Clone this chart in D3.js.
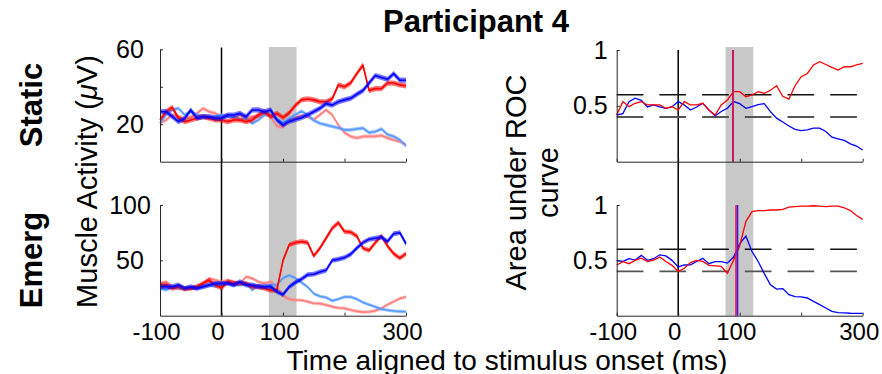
<!DOCTYPE html>
<html>
<head>
<meta charset="utf-8">
<script src="https://cdn.jsdelivr.net/npm/d3@7"></script>
<style>
  body { margin: 0; background: white; }
  text { font-family: "Liberation Sans", Arial, Helvetica, sans-serif; fill: #000; }
</style>
</head>
<body>
<div id="chart"></div>
<script>
// time grid (ms), one sample every 10 ms
const times = d3.range(-100, 301, 10)

// muscle activity (uV), static condition
const staticPink = [20.5, 22.3, 25, 24, 23.2, 24, 25.8, 28.5, 26.7, 25.8, 24, 25, 23.2, 25, 23.2, 24, 24, 25.8, 24, 19,
  18.5, 22, 23.5, 24.5, 24, 22.5, 25, 27.6, 25, 19.5, 15.5, 13.5, 12.6, 13.5, 13.5, 13.5, 14, 12.6, 11.6, 10.8, 9]
const staticLightBlue = [20.5, 25, 27.6, 28.5, 25, 26.7, 25, 24, 23.2, 24, 25, 24, 24, 22.3, 23.2, 20.5, 22.3, 25, 25, 22.3,
  21, 23, 25, 27, 25, 22, 20.5, 19.6, 18.8, 18, 17, 17, 17.5, 17.9, 15.5, 16, 17.5, 14.5, 13.5, 11.6, 8.5]
const staticRed = [22.3, 26.7, 29, 23.2, 21.4, 22.3, 23.2, 24, 23.2, 22.3, 22.3, 21.4, 22.3, 22.3, 21.4, 22.3, 25, 26.7, 24, 25.8,
  23.5, 26, 30, 33, 33.5, 33, 32, 32, 33.5, 41, 40, 42, 47, 51.5, 38, 39, 39, 42, 42, 41, 40.5]
const staticBlue = [26.7, 26.7, 24, 21.4, 23, 27.6, 23.2, 24, 24, 23.2, 23.2, 24.9, 24.9, 25.8, 24, 27.6, 27.6, 26.7, 27.6, 22.3,
  19.5, 21.5, 22.5, 23.5, 25, 26.7, 28.5, 31, 30.2, 32, 33, 33.8, 36, 38, 42, 46, 45, 44, 47, 43.5, 43.5]

// muscle activity (uV), emerging condition
const emergPink = [29.2, 30.7, 26.2, 24.7, 23.2, 24.7, 26.2, 29.2, 33.7, 32.2, 30.7, 32.2, 30.7, 29.2, 35.2, 33.7, 30.7, 29.2, 30.7, 26.2,
  18, 15, 14, 14, 12.7, 11.2, 11, 9.7, 8.2, 7, 6.7, 5.2, 4, 3.2, 3.5, 4.5, 6.5, 10, 12.7, 15.5, 17]
const emergLightBlue = [24.7, 23.2, 26.2, 24.7, 24.7, 24.7, 24.7, 26.2, 27.7, 26.2, 27.7, 29.2, 27.7, 27.7, 29.2, 23.2, 27.7, 26.2, 27.7, 27.7,
  34, 36.5, 34, 30, 26, 20, 17.5, 16.5, 13.5, 15, 17, 17, 15, 12, 10, 8, 6, 5, 4.2, 3.8, 3.7]
const emergRed = [27.7, 27.7, 24.7, 26.2, 24.7, 24.7, 26.2, 29.2, 32, 27.7, 25, 30.7, 29.2, 29.2, 29.2, 26.2, 26.2, 24.7, 23, 23,
  50, 64, 66, 67, 66, 54, 61, 70, 79, 84, 76, 75.5, 72, 61, 59, 66, 72, 63, 56, 52, 56]
const emergBlue = [26.2, 26.2, 26.2, 27.7, 24.7, 26.2, 24.7, 26.2, 27.7, 29.2, 29.2, 29.2, 27.7, 30.7, 27.7, 27.7, 26.2, 26.2, 26.2, 21.7,
  19, 26, 30, 33, 37, 37.5, 39.5, 41, 50, 51, 52.5, 55.5, 61, 66, 69, 70, 71, 67, 74, 75, 65]

// standard error of each trace (uV): pink, light blue, red, blue
const staticSE = [1.0, 1.0, 1.4, 1.4]
const emergSE = [1.5, 1.5, 2.2, 2.2]

// area under ROC curve
const rocStaticRed = [0.418, 0.538, 0.493, 0.523, 0.538, 0.508, 0.508, 0.508, 0.478, 0.493, 0.463, 0.538, 0.508, 0.508, 0.523, 0.463, 0.418, 0.508, 0.553, 0.627,
  0.627, 0.582, 0.597, 0.627, 0.612, 0.64, 0.68, 0.585, 0.56, 0.68, 0.761, 0.79, 0.866, 0.896, 0.87, 0.845, 0.82, 0.85, 0.85, 0.866, 0.88]
const rocStaticBlue = [0.418, 0.43, 0.538, 0.568, 0.55, 0.49, 0.508, 0.49, 0.478, 0.493, 0.538, 0.508, 0.463, 0.49, 0.523, 0.463, 0.41, 0.45, 0.478, 0.538,
  0.52, 0.478, 0.493, 0.51, 0.52, 0.448, 0.39, 0.355, 0.32, 0.29, 0.278, 0.284, 0.3, 0.3, 0.27, 0.22, 0.205, 0.19, 0.16, 0.14, 0.105]
const rocEmergRed = [0.458, 0.488, 0.47, 0.5, 0.52, 0.49, 0.503, 0.53, 0.49, 0.455, 0.4, 0.428, 0.48, 0.5, 0.49, 0.455, 0.45, 0.445, 0.383, 0.5,
  0.63, 0.85, 0.94, 0.95, 0.95, 0.955, 0.955, 0.96, 0.98, 0.985, 0.99, 0.99, 0.993, 0.99, 0.985, 0.99, 0.99, 0.975, 0.95, 0.905, 0.87]
const rocEmergBlue = [0.5, 0.49, 0.515, 0.503, 0.545, 0.5, 0.515, 0.55, 0.54, 0.5, 0.44, 0.458, 0.46, 0.49, 0.518, 0.47, 0.488, 0.488, 0.475, 0.53,
  0.65, 0.72, 0.58, 0.49, 0.38, 0.28, 0.24, 0.245, 0.19, 0.172, 0.17, 0.16, 0.13, 0.1, 0.07, 0.04, 0.028, 0.025, 0.022, 0.021, 0.021]

// discrimination onset (ms): red, blue
const staticOnset = [89, 89]
const emergOnset = [94, 96.5]

// shaded response window (ms) and chance band
const shadeWindow = [77, 122]
const chanceBand = [0.6, 0.4]

// ticks
const xTicks = [-100, 0, 100, 200, 300]
const xTickLabels = ['-100', '0', '100', '', '300']
const staticTicks = [20, 40, 60]
const staticTickLabels = ['20', '', '60']
const emergTicks = [50, 100]
const rocTicks = [0.5, 1]

let width = 882
let height = 374

let svg = d3
  .select('#chart')
  .append('svg')
  .attr('width', width)
  .attr('height', height)

let xLeft = d3.scaleLinear().domain([-100, 300]).range([160, 406])
let xRight = d3.scaleLinear().domain([-100, 300]).range([616.7, 862.7])
let yStatic = d3.scaleLinear().domain([0, 60]).range([161.7, 49.3])
let yEmerg = d3.scaleLinear().domain([0, 100]).range([315.7, 205])
let yRocTop = d3.scaleLinear().domain([0, 1]).range([161.7, 50])
let yRocBot = d3.scaleLinear().domain([0, 1]).range([315.7, 205])

const colors = ['#ff8080', '#5a9bff', '#ff0000', '#0000ff']

// grey window + stimulus onset line, spanning both rows
function drawBackground(x, top) {
  svg
    .append('rect')
    .attr('x', x(shadeWindow[0]))
    .attr('width', x(shadeWindow[1]) - x(shadeWindow[0]))
    .attr('y', 47)
    .attr('height', 315.7 - 47)
    .attr('fill', '#c8c8c8')

  svg
    .append('line')
    .attr('x1', x(0))
    .attr('x2', x(0))
    .attr('y1', top)
    .attr('y2', 315.7)
    .attr('stroke', 'black')
    .attr('stroke-width', 1.5)
}
drawBackground(xLeft, 47.5)
drawBackground(xRight, 50)

// chance level dashed lines
;[yRocTop, yRocBot].forEach(y => {
  svg
    .selectAll(null)
    .data(chanceBand)
    .enter()
    .append('line')
    .attr('x1', xRight(-100))
    .attr('x2', xRight(291))
    .attr('y1', d => y(d))
    .attr('y2', d => y(d))
    .attr('stroke', (d, i) => (i === 0 ? '#111' : '#555'))
    .attr('stroke-width', (d, i) => (i === 0 ? 1.4 : 1.8))
    .attr('stroke-dasharray', '26.7,16')
})

// EMG traces with SE band
function drawEmg(y, series, se) {
  series.forEach((vals, k) => {
    let pts = vals.map((v, i) => ({ t: times[i], v: v }))
    let area = d3
      .area()
      .x(d => xLeft(d.t))
      .y0(d => y(d.v - se[k]))
      .y1(d => y(d.v + se[k]))
    let line = d3
      .line()
      .x(d => xLeft(d.t))
      .y(d => y(d.v))
    svg
      .append('path')
      .datum(pts)
      .attr('d', area)
      .attr('fill', colors[k])
      .attr('opacity', 0.55)
    svg
      .append('path')
      .datum(pts)
      .attr('d', line)
      .attr('fill', 'none')
      .attr('stroke', colors[k])
      .attr('stroke-width', 1.6)
      .attr('stroke-linejoin', 'round')
  })
}
drawEmg(yStatic, [staticPink, staticLightBlue, staticRed, staticBlue], staticSE)
drawEmg(yEmerg, [emergPink, emergLightBlue, emergRed, emergBlue], emergSE)

// ROC traces and onset markers
function drawRoc(y, red, blue, onset) {
  ;[blue, red].forEach((vals, k) => {
    let pts = vals.map((v, i) => ({ t: times[i], v: v }))
    svg
      .append('path')
      .datum(pts)
      .attr('d', d3.line().x(d => xRight(d.t)).y(d => y(d.v)))
      .attr('fill', 'none')
      .attr('stroke', k === 0 ? '#0000ff' : '#ff0000')
      .attr('stroke-width', 1.3)
  })
  // blue marker first so red sits on top
  ;[1, 0].forEach(k => {
    svg
      .append('line')
      .attr('x1', xRight(onset[k]))
      .attr('x2', xRight(onset[k]))
      .attr('y1', y(0))
      .attr('y2', y(1))
      .attr('stroke', k === 0 ? '#f01040' : '#2020ff')
      .attr('stroke-width', 1.6)
  })
}
drawRoc(yRocTop, rocStaticRed, rocStaticBlue, staticOnset)
drawRoc(yRocBot, rocEmergRed, rocEmergBlue, emergOnset)

// axes
function styleAxis(g) {
  g.select('.domain').attr('stroke', '#262626')
  g.selectAll('.tick line').attr('stroke', '#262626')
  g.selectAll('text').style('font-size', '24px').attr('fill', 'black')
}

function xAxis(x, yPos, labels) {
  svg
    .append('g')
    .attr('transform', `translate(0,${yPos})`)
    .call(
      d3
        .axisBottom(x)
        .tickValues(xTicks)
        .tickSizeInner(-3)
        .tickSizeOuter(0)
        .tickPadding(7)
        .tickFormat((d, i) => (labels ? xTickLabels[i] : ''))
    )
    .call(styleAxis)
    .call(g => g.selectAll('text').attr('dx', -4))
}

function yAxis(xPos, y, ticks, fmt, labelX, anchor) {
  svg
    .append('g')
    .attr('transform', `translate(${xPos},0)`)
    .call(
      d3
        .axisLeft(y)
        .tickValues(ticks)
        .tickSizeInner(-3)
        .tickSizeOuter(0)
        .tickFormat(fmt)
    )
    .call(styleAxis)
    .call(g => g.selectAll('text').attr('x', labelX).attr('text-anchor', anchor).style('font-size', '25px'))
}

xAxis(xLeft, 161.7, false)
xAxis(xLeft, 315.7, true)
xAxis(xRight, 161.7, false)
xAxis(xRight, 315.7, true)

yAxis(160, yStatic, staticTicks, (d, i) => staticTickLabels[i], -30, 'middle')
yAxis(160, yEmerg, emergTicks, d => d, -30, 'middle')
yAxis(616.7, yRocTop, rocTicks, d => d, -9, 'end')
yAxis(616.7, yRocBot, rocTicks, d => d, -9, 'end')

// titles and labels
svg
  .append('text')
  .text('Participant 4')
  .attr('x', 476)
  .attr('y', 32)
  .attr('text-anchor', 'middle')
  .attr('font-size', 31)
  .attr('font-weight', 'bold')

function vText(str, x, y, size, bold) {
  return svg
    .append('text')
    .attr('transform', `translate(${x},${y}) rotate(-90)`)
    .attr('text-anchor', 'middle')
    .attr('font-size', size)
    .attr('font-weight', bold ? 'bold' : 'normal')
    .text(str)
}
vText('Static', 42, 105, 31, true)
vText('Emerg', 42, 260, 31, true)

let muscle = vText('Muscle Activity (', 97, 181.5, 29, false)
muscle.append('tspan').attr('font-style', 'italic').text('μ')
muscle.append('tspan').text('V)')

vText('Area under ROC', 526, 182.5, 29, false)
vText('curve', 558, 182.5, 29, false)

svg
  .append('text')
  .text('Time aligned to stimulus onset (ms)')
  .attr('x', 507)
  .attr('y', 369.5)
  .attr('text-anchor', 'middle')
  .attr('font-size', 28)
</script>
</body>
</html>
